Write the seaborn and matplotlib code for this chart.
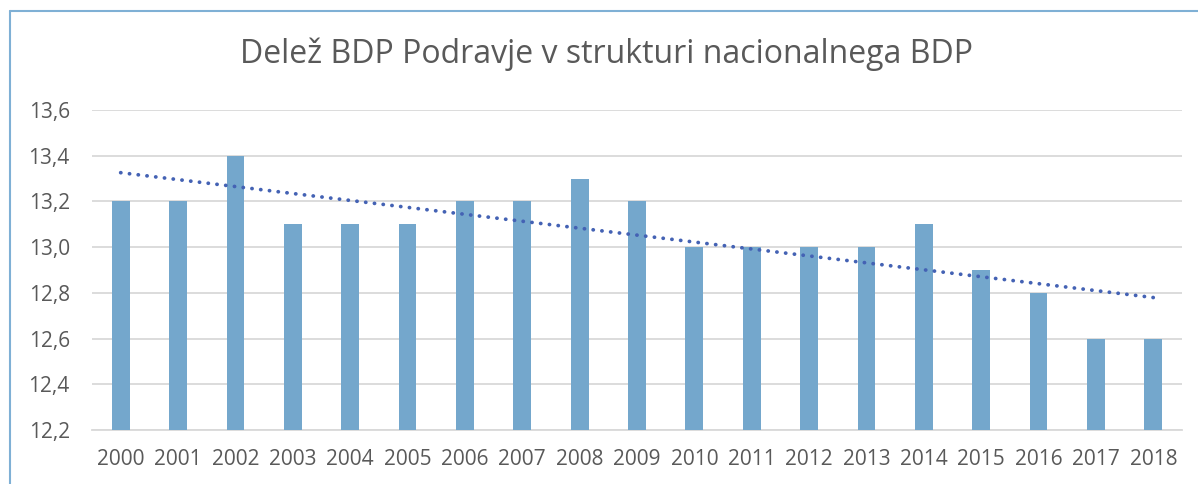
import numpy as np
import pandas as pd
import matplotlib
matplotlib.use("Agg")
import matplotlib.pyplot as plt
import seaborn as sns
from matplotlib.ticker import FuncFormatter

# --------------------------------------------------
# DATA
# --------------------------------------------------

years = [str(y) for y in range(2000, 2019)]
share = [13.2, 13.2, 13.4, 13.1, 13.1, 13.1, 13.2, 13.2, 13.3, 13.2,
         13.0, 13.0, 13.0, 13.0, 13.1, 12.9, 12.8, 12.6, 12.6]
y_ticks = [12.2, 12.4, 12.6, 12.8, 13.0, 13.2, 13.4, 13.6]

title = "Delež BDP Podravje v strukturi nacionalnega BDP"

# --------------------------------------------------
# PLOT
# --------------------------------------------------

sns.set_theme(style="white")
plt.rcParams["font.family"] = ["Open Sans", "DejaVu Sans"]

df = pd.DataFrame({"leto": years, "delez": share})

fig = plt.figure(figsize=(11.98, 4.84), dpi=100)
ax = fig.add_axes([92 / 1198, 1 - 430 / 484, (1182 - 92) / 1198, (430 - 110) / 484])

sns.barplot(data=df, x="leto", y="delez", color="#74a7cc", saturation=1,
            width=0.31, ax=ax, zorder=3)
for p in ax.patches:
    p.set_linewidth(0)

# linear trend line
x = np.arange(len(share))
k, n = np.polyfit(x, share, 1)
ax.plot(x, k * x + n, color="#4462b4", linestyle=(0, (0.05, 2.3)),
        linewidth=2.7, dash_capstyle="round", zorder=4)

ax.set_ylim(12.2, 13.6)
ax.set_yticks(y_ticks)
ax.yaxis.set_major_formatter(FuncFormatter(lambda v, _: f"{v:.1f}".replace(".", ",")))
ax.set_xlim(-0.5, len(years) - 0.5)
ax.grid(axis="y", color="#d9d9d9", linewidth=1.3, zorder=0)
ax.set_axisbelow(True)
for s in ["top", "right", "left"]:
    ax.spines[s].set_visible(False)
ax.spines["bottom"].set_color("#d9d9d9")
ax.spines["bottom"].set_linewidth(1.3)

ax.tick_params(axis="both", length=0, labelsize=15, labelcolor="#595959")
ax.tick_params(axis="y", pad=16)
ax.tick_params(axis="x", pad=14)
ax.set_xlabel("")
ax.set_ylabel("")

fig.text(607 / 1198, 1 - 54 / 484, title, ha="center", va="center",
         fontsize=23, color="#595959")

# chart border (left and top visible)
fig.add_artist(plt.Line2D([10 / 1198, 10 / 1198], [0, 1 - 11 / 484],
                          color="#7fb0d5", linewidth=1.5, transform=fig.transFigure))
fig.add_artist(plt.Line2D([10 / 1198, 1], [1 - 11 / 484, 1 - 11 / 484],
                          color="#7fb0d5", linewidth=1.5, transform=fig.transFigure))

fig.savefig("out.png", dpi=100, facecolor="white")
plt.close(fig)
